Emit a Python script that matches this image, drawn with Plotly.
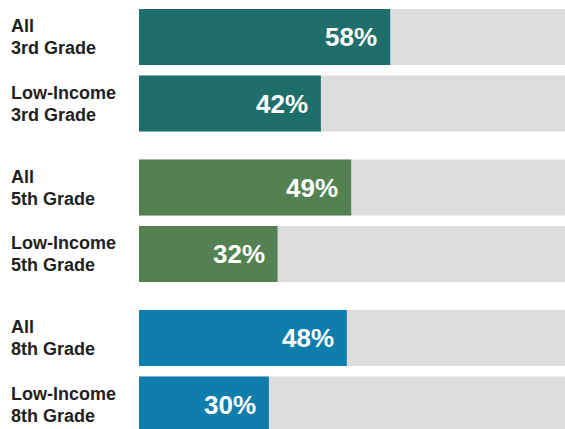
import plotly.graph_objects as go

groups = ["3rd Grade", "5th Grade", "8th Grade"]
subgroups = ["All", "Low-Income"]
values = [[58, 42], [49, 32], [48, 30]]
colors = ["#1E6E6B", "#548152", "#0F7EAD"]
grey = "#DCDCDE"

# layout geometry (pixel-like y units)
first_center = 37
group_step = 150.5
item_step = 66.5
bar_h = 56
line_gap = 11

fig = go.Figure()
ys, xs, cols, labels = [], [], [], []
for g, grade in enumerate(groups):
    for i, sub in enumerate(subgroups):
        ys.append(first_center + g * group_step + i * item_step)
        xs.append(values[g][i])
        cols.append(colors[g])
        labels.append((sub, grade))

fig.add_trace(go.Bar(x=[100] * len(ys), y=ys, orientation="h", width=bar_h,
                     marker=dict(color=grey, line=dict(width=0)), hoverinfo="skip"))
fig.add_trace(go.Bar(x=xs, y=ys, orientation="h", width=bar_h,
                     marker=dict(color=cols, line=dict(width=0)), hoverinfo="skip"))

W = 565
L = 139
plot_w = W - L
font = "Liberation Sans, Arial"
for y, x, lab in zip(ys, xs, labels):
    fig.add_annotation(x=x, y=y, xref="x", yref="y", text=f"<b>{x}%</b>",
                       showarrow=False, xanchor="right", yanchor="middle", xshift=-11,
                       font=dict(family=font, size=26, color="white"))
    for k, line in enumerate(lab):
        fig.add_annotation(x=-(L - 9) / plot_w, y=y + (2 * k - 1) * line_gap,
                           xref="paper", yref="y", text=f"<b>{line}</b>",
                           showarrow=False, xanchor="left", yanchor="middle", align="left",
                           font=dict(family=font, size=18, color="#231F20"))

fig.update_layout(
    width=W, height=429, barmode="overlay", showlegend=False,
    margin=dict(l=L, r=0, t=0, b=0),
    plot_bgcolor="white", paper_bgcolor="white",
    xaxis=dict(range=[0, plot_w / 4.33], visible=False, fixedrange=True),
    yaxis=dict(range=[429, 0], visible=False, fixedrange=True),
)
fig.write_html("out.html", config={"displayModeBar": False},
               post_script="document.body.style.margin='0';document.body.style.overflow='hidden';")
